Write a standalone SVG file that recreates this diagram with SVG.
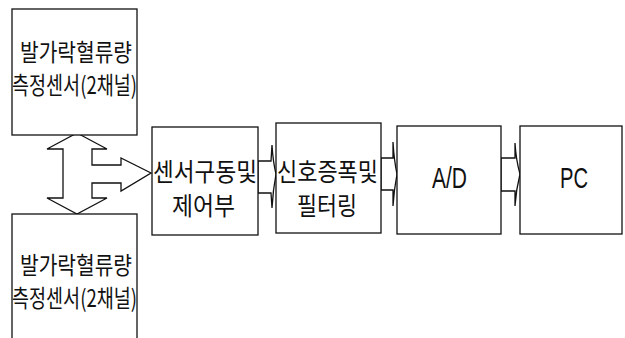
<svg xmlns="http://www.w3.org/2000/svg" width="625" height="338" viewBox="0 0 625 338">
<style>
.box{fill:#fff;stroke:#111;stroke-width:1.3}
.con{fill:#fff;stroke:#111;stroke-width:1.3;stroke-linejoin:miter}
.kr{font-family:"Noto Sans CJK KR","Noto Sans",sans-serif;fill:#111;text-anchor:start}
.en{font-family:"Liberation Sans",Arial,sans-serif;fill:#111}
</style>
<rect width="625" height="338" fill="#fff"/>
<g id="connectors">
<polygon class="con" points="77,133 107,149 92,149 92,165 121,165 121,158 151,173 121,191 121,183 92,183 92,198 107,198 77,214 47,198 63,198 63,149 47,149"/>
<path class="con" d="M258,161 L271,161 L272,145 Q273,162 276,174 Q273,190 272,208 L271,193 L258,193 Z"/>
<path class="con" d="M381,158 L393,158 L393,142 Q394,160 397,174 Q394,190 393,206 L393,190 L381,190 Z"/>
<path class="con" d="M501,158 L515,158 L515,143 Q516,160 520,174 Q516,190 515,206 L515,191 L501,191 Z"/>
</g>
<g id="sensor-top">
<rect class="box" x="12" y="9" width="125" height="126"/>
<text class="kr" x="20" y="61" font-size="24" textLength="112" lengthAdjust="spacingAndGlyphs">발가락혈류량</text>
<text class="kr" x="12" y="94" font-size="24" textLength="125" lengthAdjust="spacingAndGlyphs">측정센서(2채널)</text>
</g>
<g id="sensor-bottom">
<rect class="box" x="12" y="214" width="125" height="140"/>
<text class="kr" x="20" y="274" font-size="24" textLength="112" lengthAdjust="spacingAndGlyphs">발가락혈류량</text>
<text class="kr" x="12" y="307" font-size="24" textLength="125" lengthAdjust="spacingAndGlyphs">측정센서(2채널)</text>
</g>
<g id="driver">
<rect class="box" x="152" y="127" width="106" height="108"/>
<text class="kr" x="153" y="181" font-size="25" textLength="104" lengthAdjust="spacingAndGlyphs">센서구동및</text>
<text class="kr" x="172" y="215" font-size="25" textLength="63" lengthAdjust="spacingAndGlyphs">제어부</text>
</g>
<g id="amplifier">
<rect class="box" x="276" y="123" width="105" height="110"/>
<text class="kr" x="277" y="181" font-size="25" textLength="101" lengthAdjust="spacingAndGlyphs">신호증폭및</text>
<text class="kr" x="297" y="215" font-size="25" textLength="60" lengthAdjust="spacingAndGlyphs">필터링</text>
</g>
<g id="ad">
<rect class="box" x="397" y="126" width="104" height="108"/>
<text class="en" x="432" y="188" font-size="29" textLength="35" lengthAdjust="spacingAndGlyphs">A/D</text>
</g>
<g id="pc">
<rect class="box" x="520" y="126" width="102" height="108"/>
<text class="en" x="560" y="188" font-size="29" textLength="28" lengthAdjust="spacingAndGlyphs">PC</text>
</g>
</svg>
